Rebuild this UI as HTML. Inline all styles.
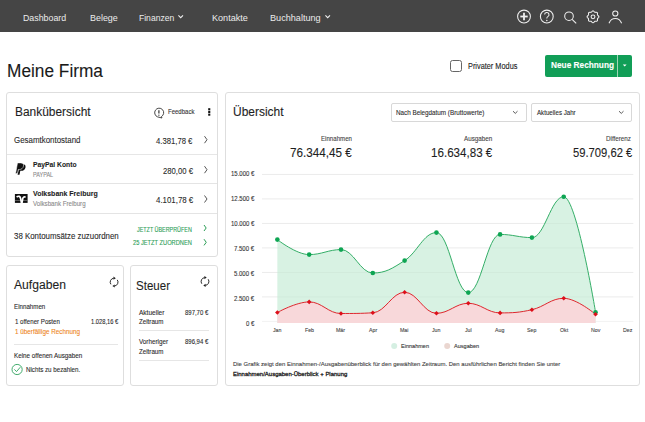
<!DOCTYPE html>
<html><head><meta charset="utf-8"><style>
html,body{margin:0;padding:0;width:645px;height:422px;overflow:hidden;background:#fff;}
body{position:relative;font-family:"Liberation Sans",sans-serif;}
.t{position:absolute;white-space:nowrap;line-height:1;transform-origin:0 0;-webkit-text-stroke:0.1px currentColor;}
svg{position:absolute;left:0;top:0;}
</style></head><body>
<div style="position:absolute;left:0;top:0;width:645px;height:32px;background:#454545;"></div>
<div class="t" style="left:22.60px;top:13.04px;font-size:9.88px;color:#ececec;transform:scaleX(0.8938);-webkit-text-stroke:0;">Dashboard</div>
<div class="t" style="left:89.70px;top:13.04px;font-size:9.88px;color:#ececec;transform:scaleX(0.9036);-webkit-text-stroke:0;">Belege</div>
<div class="t" style="left:138.70px;top:13.04px;font-size:9.88px;color:#ececec;transform:scaleX(0.8660);-webkit-text-stroke:0;">Finanzen</div>
<div class="t" style="left:211.80px;top:13.04px;font-size:9.88px;color:#ececec;transform:scaleX(0.9205);-webkit-text-stroke:0;">Kontakte</div>
<div class="t" style="left:270.30px;top:13.04px;font-size:9.88px;color:#ececec;transform:scaleX(0.9229);-webkit-text-stroke:0;">Buchhaltung</div>
<div class="t" style="left:7.00px;top:62.30px;font-size:18.9px;color:#1a1a1a;transform:scaleX(0.9141);">Meine Firma</div>
<div style="position:absolute;left:450px;top:60.3px;width:10px;height:10px;border:1.1px solid #666;border-radius:2.5px;box-sizing:content-box;"></div>
<div class="t" style="left:467.60px;top:62.04px;font-size:8.58px;color:#222;transform:scaleX(0.8562);">Privater Modus</div>
<div style="position:absolute;left:544.7px;top:54.7px;width:87.2px;height:22px;background:#119e57;border-radius:2px;"></div>
<div style="position:absolute;left:617.2px;top:54.7px;width:0.8px;height:22px;background:#9fd6b5;"></div>
<div class="t" style="left:550.50px;top:60.59px;font-size:8.87px;color:#fff;font-weight:bold;transform:scaleX(0.9346);">Neue Rechnung</div>
<div style="position:absolute;left:6px;top:92px;width:212px;height:165px;border:1px solid #dedede;border-radius:3px;box-sizing:border-box;background:#fff;"></div>
<div style="position:absolute;left:6px;top:265px;width:118px;height:121px;border:1px solid #dedede;border-radius:3px;box-sizing:border-box;background:#fff;"></div>
<div style="position:absolute;left:130px;top:265px;width:88px;height:121px;border:1px solid #dedede;border-radius:3px;box-sizing:border-box;background:#fff;"></div>
<div style="position:absolute;left:225px;top:92px;width:415px;height:294px;border:1px solid #dedede;border-radius:3px;box-sizing:border-box;background:#fff;"></div>
<div class="t" style="left:14.90px;top:106.02px;font-size:12.5px;color:#1e1e1e;transform:scaleX(0.9544);">Bankübersicht</div>
<div class="t" style="left:167.90px;top:109.32px;font-size:6.83px;color:#333;transform:scaleX(0.8801);">Feedback</div>
<div class="t" style="left:14.20px;top:136.05px;font-size:9.16px;color:#2a2a2a;transform:scaleX(0.8649);">Gesamtkontostand</div>
<div class="t" style="left:155.60px;top:135.78px;font-size:9.59px;color:#2a2a2a;transform:scaleX(0.8030);">4.381,78 €</div>
<div style="position:absolute;left:7px;top:154px;width:210px;height:1px;background:#e6e6e6;"></div>
<div class="t" style="left:33.40px;top:160.50px;font-size:7.56px;color:#1e1e1e;font-weight:bold;transform:scaleX(0.8947);">PayPal Konto</div>
<div class="t" style="left:33.40px;top:171.58px;font-size:6.4px;color:#8a8a8a;transform:scaleX(0.8561);">PAYPAL</div>
<div class="t" style="left:162.90px;top:165.88px;font-size:9.59px;color:#2a2a2a;transform:scaleX(0.8036);">280,00 €</div>
<div style="position:absolute;left:7px;top:183px;width:210px;height:1px;background:#e4e4e4;"></div>
<div class="t" style="left:33.40px;top:189.80px;font-size:7.56px;color:#1e1e1e;font-weight:bold;transform:scaleX(0.9255);">Volksbank Freiburg</div>
<div class="t" style="left:33.40px;top:200.94px;font-size:6.69px;color:#8a8a8a;transform:scaleX(0.9185);">Volksbank Freiburg</div>
<div class="t" style="left:155.60px;top:194.78px;font-size:9.59px;color:#2a2a2a;transform:scaleX(0.8229);">4.101,78 €</div>
<div style="position:absolute;left:7px;top:212.5px;width:210px;height:1px;background:#e4e4e4;"></div>
<div class="t" style="left:14.10px;top:231.72px;font-size:8.72px;color:#2a2a2a;transform:scaleX(0.9037);">38 Kontoumsätze zuzuordnen</div>
<div class="t" style="left:137.20px;top:226.76px;font-size:6.54px;color:#2a9d55;transform:scaleX(0.8271);">JETZT ÜBERPRÜFEN</div>
<div class="t" style="left:133.10px;top:239.76px;font-size:6.54px;color:#2a9d55;transform:scaleX(0.8745);">25 JETZT ZUORDNEN</div>
<div class="t" style="left:14.10px;top:277.63px;font-size:13.08px;color:#1e1e1e;transform:scaleX(0.9267);">Aufgaben</div>
<div class="t" style="left:14.10px;top:304.24px;font-size:6.69px;color:#2a2a2a;transform:scaleX(0.9248);">Einnahmen</div>
<div class="t" style="left:15.10px;top:318.54px;font-size:6.69px;color:#2a2a2a;transform:scaleX(0.9168);">1 offener Posten</div>
<div class="t" style="left:90.70px;top:318.54px;font-size:6.69px;color:#2a2a2a;transform:scaleX(0.8633);">1.028,16 €</div>
<div class="t" style="left:15.00px;top:328.54px;font-size:6.69px;color:#ee8420;transform:scaleX(0.9446);">1 überfällige Rechnung</div>
<div style="position:absolute;left:13.7px;top:344.2px;width:104.3px;height:0.8px;background:#e6e6e6;"></div>
<div class="t" style="left:13.70px;top:352.64px;font-size:6.69px;color:#2a2a2a;transform:scaleX(0.9383);">Keine offenen Ausgaben</div>
<div class="t" style="left:25.80px;top:367.14px;font-size:6.69px;color:#2a2a2a;transform:scaleX(0.9283);">Nichts zu bezahlen.</div>
<div class="t" style="left:136.00px;top:278.83px;font-size:13.08px;color:#1e1e1e;transform:scaleX(0.8822);">Steuer</div>
<div class="t" style="left:138.60px;top:309.54px;font-size:6.69px;color:#2a2a2a;transform:scaleX(0.9758);">Aktueller</div>
<div class="t" style="left:138.60px;top:319.34px;font-size:6.69px;color:#2a2a2a;transform:scaleX(0.9282);">Zeitraum</div>
<div class="t" style="left:184.70px;top:309.54px;font-size:6.69px;color:#2a2a2a;transform:scaleX(0.8909);">897,70 €</div>
<div style="position:absolute;left:139px;top:330.4px;width:70.2px;height:0.8px;background:#e6e6e6;"></div>
<div class="t" style="left:138.60px;top:339.44px;font-size:6.69px;color:#2a2a2a;transform:scaleX(0.9395);">Vorheriger</div>
<div class="t" style="left:138.60px;top:348.94px;font-size:6.69px;color:#2a2a2a;transform:scaleX(0.9282);">Zeitraum</div>
<div class="t" style="left:184.70px;top:339.44px;font-size:6.69px;color:#2a2a2a;transform:scaleX(0.8909);">896,94 €</div>
<div style="position:absolute;left:139px;top:359.9px;width:70.2px;height:0.8px;background:#e6e6e6;"></div>
<div class="t" style="left:232.70px;top:106.29px;font-size:12.06px;color:#1e1e1e;transform:scaleX(0.9934);">Übersicht</div>
<div style="position:absolute;left:391.3px;top:102.9px;width:135.4px;height:18.7px;border:1px solid #d8d8d8;border-radius:2px;box-sizing:border-box;"></div>
<div style="position:absolute;left:531.4px;top:102.9px;width:100.4px;height:18.7px;border:1px solid #d8d8d8;border-radius:2px;box-sizing:border-box;"></div>
<div class="t" style="left:396.10px;top:108.85px;font-size:7.27px;color:#2a2a2a;transform:scaleX(0.8671);">Nach Belegdatum (Bruttowerte)</div>
<div class="t" style="left:537.00px;top:108.85px;font-size:7.27px;color:#2a2a2a;transform:scaleX(0.8475);">Aktuelles Jahr</div>
<div class="t" style="left:320.90px;top:136.26px;font-size:6.54px;color:#444;transform:scaleX(0.9369);">Einnahmen</div>
<div class="t" style="left:289.90px;top:147.42px;font-size:12.5px;color:#1e1e1e;transform:scaleX(0.9359);">76.344,45 €</div>
<div class="t" style="left:463.60px;top:136.26px;font-size:6.54px;color:#444;transform:scaleX(0.9607);">Ausgaben</div>
<div class="t" style="left:430.60px;top:147.42px;font-size:12.5px;color:#1e1e1e;transform:scaleX(0.9283);">16.634,83 €</div>
<div class="t" style="left:606.00px;top:136.26px;font-size:6.54px;color:#444;transform:scaleX(0.9596);">Differenz</div>
<div class="t" style="left:572.50px;top:147.42px;font-size:12.5px;color:#1e1e1e;transform:scaleX(0.8980);">59.709,62 €</div>
<div class="t" style="left:245.73px;top:320.74px;font-size:6.69px;color:#333;transform:scaleX(0.8995);">0 €</div>
<div class="t" style="left:234.02px;top:295.71px;font-size:6.69px;color:#333;transform:scaleX(0.8995);">2.500 €</div>
<div class="t" style="left:234.02px;top:270.68px;font-size:6.69px;color:#333;transform:scaleX(0.8995);">5.000 €</div>
<div class="t" style="left:234.02px;top:245.65px;font-size:6.69px;color:#333;transform:scaleX(0.8995);">7.500 €</div>
<div class="t" style="left:230.68px;top:220.62px;font-size:6.69px;color:#333;transform:scaleX(0.8995);">10.000 €</div>
<div class="t" style="left:230.68px;top:195.59px;font-size:6.69px;color:#333;transform:scaleX(0.8995);">12.500 €</div>
<div class="t" style="left:230.68px;top:170.56px;font-size:6.69px;color:#333;transform:scaleX(0.8995);">15.000 €</div>
<div class="t" style="left:273.12px;top:328.30px;font-size:5.67px;color:#444;transform:scaleX(0.9254);">Jan</div>
<div class="t" style="left:304.65px;top:328.30px;font-size:5.67px;color:#444;transform:scaleX(0.9254);">Feb</div>
<div class="t" style="left:336.47px;top:328.30px;font-size:5.67px;color:#444;transform:scaleX(0.9254);">Mär</div>
<div class="t" style="left:368.73px;top:328.30px;font-size:5.67px;color:#444;transform:scaleX(0.9254);">Apr</div>
<div class="t" style="left:400.40px;top:328.30px;font-size:5.67px;color:#444;transform:scaleX(0.9254);">Mai</div>
<div class="t" style="left:432.22px;top:328.30px;font-size:5.67px;color:#444;transform:scaleX(0.9254);">Jun</div>
<div class="t" style="left:464.92px;top:328.30px;font-size:5.67px;color:#444;transform:scaleX(0.9254);">Jul</div>
<div class="t" style="left:495.42px;top:328.30px;font-size:5.67px;color:#444;transform:scaleX(0.9254);">Aug</div>
<div class="t" style="left:527.24px;top:328.30px;font-size:5.67px;color:#444;transform:scaleX(0.9254);">Sep</div>
<div class="t" style="left:559.65px;top:328.30px;font-size:5.67px;color:#444;transform:scaleX(0.9254);">Okt</div>
<div class="t" style="left:590.88px;top:328.30px;font-size:5.67px;color:#444;transform:scaleX(0.9254);">Nov</div>
<div class="t" style="left:622.70px;top:328.30px;font-size:5.67px;color:#444;transform:scaleX(0.9254);">Dez</div>
<div class="t" style="left:400.70px;top:344.00px;font-size:5.67px;color:#333;transform:scaleX(0.9796);">Einnahmen</div>
<div class="t" style="left:453.60px;top:344.00px;font-size:5.67px;color:#333;transform:scaleX(0.9868);">Ausgaben</div>
<div class="t" style="left:233.00px;top:361.55px;font-size:5.96px;color:#444;">Die Grafik zeigt den Einnahmen-/Ausgabenüberblick für den gewählten Zeitraum. Den ausführlichen Bericht finden Sie unter</div>
<div class="t" style="left:233.00px;top:371.04px;font-size:6.1px;color:#222;transform:scaleX(0.9792);-webkit-text-stroke:0.3px #222;">Einnahmen/Ausgaben-Überblick + Planung</div>
<svg width="645" height="422" viewBox="0 0 645 422">
 <g fill="none" stroke="#f0f0f0" stroke-width="1.05">
  <polyline points="178.4,15.4 180.7,17.7 183,15.4"/>
  <polyline points="325.4,15.4 327.7,17.7 330,15.4"/>
  <circle cx="524" cy="16.5" r="6.4"/>
  <line x1="520.3" y1="16.5" x2="527.7" y2="16.5" stroke-width="1.8"/>
  <line x1="524" y1="12.8" x2="524" y2="20.2" stroke-width="1.8"/>
  <circle cx="546.8" cy="16.5" r="6.4"/>
  <path d="M544.6,14.6 a2.2,2.2 0 1 1 3.2,2 c-0.9,0.5 -1,1 -1,2" />
  <circle cx="569.0" cy="16.2" r="4.3"/>
  <line x1="572.1" y1="19.3" x2="576.2" y2="23.4"/>
  <circle cx="593.0" cy="16.8" r="1.9"/>
  <path id="gearp" d="M598.90,16.80 L598.87,17.03 L598.79,17.26 L598.65,17.47 L598.49,17.67 L598.30,17.85 L598.10,18.02 L597.91,18.19 L597.75,18.34 L597.62,18.50 L597.53,18.68 L597.47,18.86 L597.45,19.07 L597.46,19.29 L597.47,19.54 L597.49,19.80 L597.49,20.06 L597.47,20.33 L597.41,20.57 L597.31,20.79 L597.17,20.97 L596.99,21.11 L596.77,21.21 L596.53,21.27 L596.26,21.29 L596.00,21.29 L595.74,21.27 L595.49,21.26 L595.27,21.25 L595.06,21.27 L594.88,21.33 L594.70,21.42 L594.54,21.55 L594.39,21.71 L594.22,21.90 L594.05,22.10 L593.87,22.29 L593.67,22.45 L593.46,22.59 L593.23,22.67 L593.00,22.70 L592.77,22.67 L592.54,22.59 L592.33,22.45 L592.13,22.29 L591.95,22.10 L591.78,21.90 L591.61,21.71 L591.46,21.55 L591.30,21.42 L591.12,21.33 L590.94,21.27 L590.73,21.25 L590.51,21.26 L590.26,21.27 L590.00,21.29 L589.74,21.29 L589.47,21.27 L589.23,21.21 L589.01,21.11 L588.83,20.97 L588.69,20.79 L588.59,20.57 L588.53,20.33 L588.51,20.06 L588.51,19.80 L588.53,19.54 L588.54,19.29 L588.55,19.07 L588.53,18.86 L588.47,18.68 L588.38,18.50 L588.25,18.34 L588.09,18.19 L587.90,18.02 L587.70,17.85 L587.51,17.67 L587.35,17.47 L587.21,17.26 L587.13,17.03 L587.10,16.80 L587.13,16.57 L587.21,16.34 L587.35,16.13 L587.51,15.93 L587.70,15.75 L587.90,15.58 L588.09,15.41 L588.25,15.26 L588.38,15.10 L588.47,14.92 L588.53,14.74 L588.55,14.53 L588.54,14.31 L588.53,14.06 L588.51,13.80 L588.51,13.54 L588.53,13.27 L588.59,13.03 L588.69,12.81 L588.83,12.63 L589.01,12.49 L589.23,12.39 L589.47,12.33 L589.74,12.31 L590.00,12.31 L590.26,12.33 L590.51,12.34 L590.73,12.35 L590.94,12.33 L591.12,12.27 L591.30,12.18 L591.46,12.05 L591.61,11.89 L591.78,11.70 L591.95,11.50 L592.13,11.31 L592.33,11.15 L592.54,11.01 L592.77,10.93 L593.00,10.90 L593.23,10.93 L593.46,11.01 L593.67,11.15 L593.87,11.31 L594.05,11.50 L594.22,11.70 L594.39,11.89 L594.54,12.05 L594.70,12.18 L594.88,12.27 L595.06,12.33 L595.27,12.35 L595.49,12.34 L595.74,12.33 L596.00,12.31 L596.26,12.31 L596.53,12.33 L596.77,12.39 L596.99,12.49 L597.17,12.63 L597.31,12.81 L597.41,13.03 L597.47,13.27 L597.49,13.54 L597.49,13.80 L597.47,14.06 L597.46,14.31 L597.45,14.53 L597.47,14.74 L597.53,14.92 L597.62,15.10 L597.75,15.26 L597.91,15.41 L598.10,15.58 L598.30,15.75 L598.49,15.93 L598.65,16.13 L598.79,16.34 L598.87,16.57 Z"/>
  <circle cx="615.3" cy="13.5" r="2.6"/>
  <path d="M609.0,23.3 c1.2,-3.2 3.5,-4.8 6.3,-4.8 s5.1,1.6 6.3,4.8"/>
 </g>
 <circle cx="546.8" cy="20.4" r="0.75" fill="#f4f4f4"/>

<polygon points="622.8,64.4 626.6,64.4 624.7,66.6" fill="#fff"/>
<g fill="none" stroke="#333" stroke-width="0.9">
 <path d="M157.6,116.9 A4.5,4.5 0 1 1 161.4,116.6 L162.0,118.0 Z"/>
 <line x1="158.9" y1="110.2" x2="158.9" y2="113.6" stroke-width="1.2"/>
</g>
<circle cx="158.9" cy="115.2" r="0.65" fill="#333"/>
<g fill="#111"><rect x="208.2" y="108.2" width="2.1" height="2.1"/><rect x="208.2" y="110.9" width="2.1" height="2.1"/><rect x="208.2" y="113.6" width="2.1" height="2.1"/></g>

<polyline points="204.50,136.20 207.02,139.70 204.50,143.20" fill="none" stroke="#555" stroke-width="1.0"/>
<polyline points="204.50,166.20 207.02,169.70 204.50,173.20" fill="none" stroke="#555" stroke-width="1.0"/>
<polyline points="204.50,195.50 207.02,199.00 204.50,202.50" fill="none" stroke="#555" stroke-width="1.0"/>
<polyline points="204.00,225.00 206.16,228.00 204.00,231.00" fill="none" stroke="#2a9d55" stroke-width="1.0"/>
<polyline points="204.00,239.20 206.23,242.30 204.00,245.40" fill="none" stroke="#2a9d55" stroke-width="1.0"/>
<path transform="translate(17.6,164.2)" d="M1.9,0 H5.1 C7.3,0 8.3,1.2 7.9,3.2 C7.4,5.5 5.8,6.6 3.7,6.6 H2.7 L1.9,10.6 H0 Z" fill="#111"/>
<path transform="translate(15.6,162.9)" d="M1.9,0 H5.1 C7.3,0 8.3,1.2 7.9,3.2 C7.4,5.5 5.8,6.6 3.7,6.6 H2.7 L1.9,10.6 H0 Z" fill="#111" stroke="#fff" stroke-width="0.55"/>

<rect x="14.9" y="194.0" width="12.7" height="8.9" fill="#111"/>
<rect x="14.9" y="200.1" width="12.7" height="0.6" fill="#888"/>
<path d="M16.6,197.0 Q19.8,194.9 20.7,198.8 L21.5,203" fill="none" stroke="#fff" stroke-width="1.7"/>
<path d="M25.6,197.2 Q23.2,196.0 22.6,199.3 L21.9,203" fill="none" stroke="#fff" stroke-width="1.7"/>

<g fill="none" stroke="#222" stroke-width="0.95">
<path d="M110.91,284.34 A3.9,3.9 0 0 1 113.76,278.21"/>
<path d="M117.29,279.86 A3.9,3.9 0 0 1 114.44,285.99"/>
</g>
<polygon points="113.50,276.60 115.80,278.20 113.50,279.80" fill="#222"/>
<polygon points="114.70,284.40 112.40,286.00 114.70,287.60" fill="#222"/>
<g fill="none" stroke="#222" stroke-width="0.95">
<path d="M201.81,283.74 A3.9,3.9 0 0 1 204.66,277.61"/>
<path d="M208.19,279.26 A3.9,3.9 0 0 1 205.34,285.39"/>
</g>
<polygon points="204.40,276.00 206.70,277.60 204.40,279.20" fill="#222"/>
<polygon points="205.60,283.80 203.30,285.40 205.60,287.00" fill="#222"/>
<circle cx="17.1" cy="369.5" r="5.1" fill="none" stroke="#3aa866" stroke-width="0.95"/><polyline points="14.4,369.4 16.5,371.6 20.3,367.2" fill="none" stroke="#3aa866" stroke-width="0.95"/>
<polyline points="513,111.2 515.25,113.4 517.5,111.2" fill="none" stroke="#444" stroke-width="0.9"/>
<polyline points="619,111.2 621.25,113.4 623.5,111.2" fill="none" stroke="#444" stroke-width="0.9"/>
<line x1="262" y1="321.40" x2="633.3" y2="321.40" stroke="#f1f1f1" stroke-width="0.95"/>
<line x1="262" y1="296.90" x2="633.3" y2="296.90" stroke="#f1f1f1" stroke-width="0.95"/>
<line x1="262" y1="272.40" x2="633.3" y2="272.40" stroke="#f1f1f1" stroke-width="0.95"/>
<line x1="262" y1="247.90" x2="633.3" y2="247.90" stroke="#f1f1f1" stroke-width="0.95"/>
<line x1="262" y1="223.40" x2="633.3" y2="223.40" stroke="#f1f1f1" stroke-width="0.95"/>
<line x1="262" y1="198.90" x2="633.3" y2="198.90" stroke="#f1f1f1" stroke-width="0.95"/>
<line x1="262" y1="174.40" x2="633.3" y2="174.40" stroke="#f1f1f1" stroke-width="0.95"/>
<path d="M277.35,239.60 C277.35,239.60 296.44,254.60 309.17,254.60 C321.90,254.60 328.26,249.60 340.99,249.60 C353.72,249.60 360.08,273.00 372.81,273.00 C385.54,273.00 391.90,268.68 404.63,260.60 C417.36,252.52 423.72,232.60 436.45,232.60 C449.18,232.60 455.54,292.60 468.27,292.60 C481.00,292.60 487.36,234.40 500.09,234.40 C512.82,234.40 519.18,237.60 531.91,237.60 C544.64,237.60 551.00,196.70 563.73,196.70 C576.46,196.70 595.55,312.20 595.55,312.20 L595.55,323.0 L277.35,323.0 Z" fill="#d8f2e3"/>
<path d="M277.35,312.50 C277.35,312.50 296.44,301.90 309.17,301.90 C321.90,301.90 328.26,313.50 340.99,313.50 C353.72,313.50 360.08,313.50 372.81,312.80 C385.54,312.10 391.90,292.30 404.63,292.30 C417.36,292.30 423.72,313.30 436.45,313.30 C449.18,313.30 455.54,303.30 468.27,303.30 C481.00,303.30 487.36,312.90 500.09,312.90 C512.82,312.90 519.18,312.62 531.91,309.70 C544.64,306.78 551.00,298.30 563.73,298.30 C576.46,298.30 595.55,314.30 595.55,314.30 L595.55,323.0 L277.35,323.0 Z" fill="#f8d8da"/>
<line x1="262" y1="296.90" x2="633.3" y2="296.90" stroke="rgba(0,40,20,0.035)" stroke-width="0.9"/>
<line x1="262" y1="272.40" x2="633.3" y2="272.40" stroke="rgba(0,40,20,0.035)" stroke-width="0.9"/>
<line x1="262" y1="247.90" x2="633.3" y2="247.90" stroke="rgba(0,40,20,0.035)" stroke-width="0.9"/>
<line x1="262" y1="223.40" x2="633.3" y2="223.40" stroke="rgba(0,40,20,0.035)" stroke-width="0.9"/>
<line x1="262" y1="198.90" x2="633.3" y2="198.90" stroke="rgba(0,40,20,0.035)" stroke-width="0.9"/>
<line x1="262" y1="174.40" x2="633.3" y2="174.40" stroke="rgba(0,40,20,0.035)" stroke-width="0.9"/>
<path d="M277.35,239.60 C277.35,239.60 296.44,254.60 309.17,254.60 C321.90,254.60 328.26,249.60 340.99,249.60 C353.72,249.60 360.08,273.00 372.81,273.00 C385.54,273.00 391.90,268.68 404.63,260.60 C417.36,252.52 423.72,232.60 436.45,232.60 C449.18,232.60 455.54,292.60 468.27,292.60 C481.00,292.60 487.36,234.40 500.09,234.40 C512.82,234.40 519.18,237.60 531.91,237.60 C544.64,237.60 551.00,196.70 563.73,196.70 C576.46,196.70 595.55,312.20 595.55,312.20" fill="none" stroke="#2aaa60" stroke-width="0.95"/>
<path d="M277.35,312.50 C277.35,312.50 296.44,301.90 309.17,301.90 C321.90,301.90 328.26,313.50 340.99,313.50 C353.72,313.50 360.08,313.50 372.81,312.80 C385.54,312.10 391.90,292.30 404.63,292.30 C417.36,292.30 423.72,313.30 436.45,313.30 C449.18,313.30 455.54,303.30 468.27,303.30 C481.00,303.30 487.36,312.90 500.09,312.90 C512.82,312.90 519.18,312.62 531.91,309.70 C544.64,306.78 551.00,298.30 563.73,298.30 C576.46,298.30 595.55,314.30 595.55,314.30" fill="none" stroke="#dd1c24" stroke-width="0.95"/>
<circle cx="277.35" cy="239.60" r="2.3" fill="#0ea553"/>
<circle cx="309.17" cy="254.60" r="2.3" fill="#0ea553"/>
<circle cx="340.99" cy="249.60" r="2.3" fill="#0ea553"/>
<circle cx="372.81" cy="273.00" r="2.3" fill="#0ea553"/>
<circle cx="404.63" cy="260.60" r="2.3" fill="#0ea553"/>
<circle cx="436.45" cy="232.60" r="2.3" fill="#0ea553"/>
<circle cx="468.27" cy="292.60" r="2.3" fill="#0ea553"/>
<circle cx="500.09" cy="234.40" r="2.3" fill="#0ea553"/>
<circle cx="531.91" cy="237.60" r="2.3" fill="#0ea553"/>
<circle cx="563.73" cy="196.70" r="2.3" fill="#0ea553"/>
<circle cx="595.55" cy="312.20" r="2.3" fill="#0ea553"/>
<polygon points="277.35,310.20 279.65,312.50 277.35,314.80 275.05,312.50" fill="#dd0f1a"/>
<polygon points="309.17,299.60 311.47,301.90 309.17,304.20 306.87,301.90" fill="#dd0f1a"/>
<polygon points="340.99,311.20 343.29,313.50 340.99,315.80 338.69,313.50" fill="#dd0f1a"/>
<polygon points="372.81,310.50 375.11,312.80 372.81,315.10 370.51,312.80" fill="#dd0f1a"/>
<polygon points="404.63,290.00 406.93,292.30 404.63,294.60 402.33,292.30" fill="#dd0f1a"/>
<polygon points="436.45,311.00 438.75,313.30 436.45,315.60 434.15,313.30" fill="#dd0f1a"/>
<polygon points="468.27,301.00 470.57,303.30 468.27,305.60 465.97,303.30" fill="#dd0f1a"/>
<polygon points="500.09,310.60 502.39,312.90 500.09,315.20 497.79,312.90" fill="#dd0f1a"/>
<polygon points="531.91,307.40 534.21,309.70 531.91,312.00 529.61,309.70" fill="#dd0f1a"/>
<polygon points="563.73,296.00 566.03,298.30 563.73,300.60 561.43,298.30" fill="#dd0f1a"/>
<polygon points="595.55,312.00 597.85,314.30 595.55,316.60 593.25,314.30" fill="#dd0f1a"/>
<circle cx="394.2" cy="345.9" r="3" fill="#d5efe2"/><circle cx="447.2" cy="345.9" r="3" fill="#ead6d0"/></svg>
</body></html>
